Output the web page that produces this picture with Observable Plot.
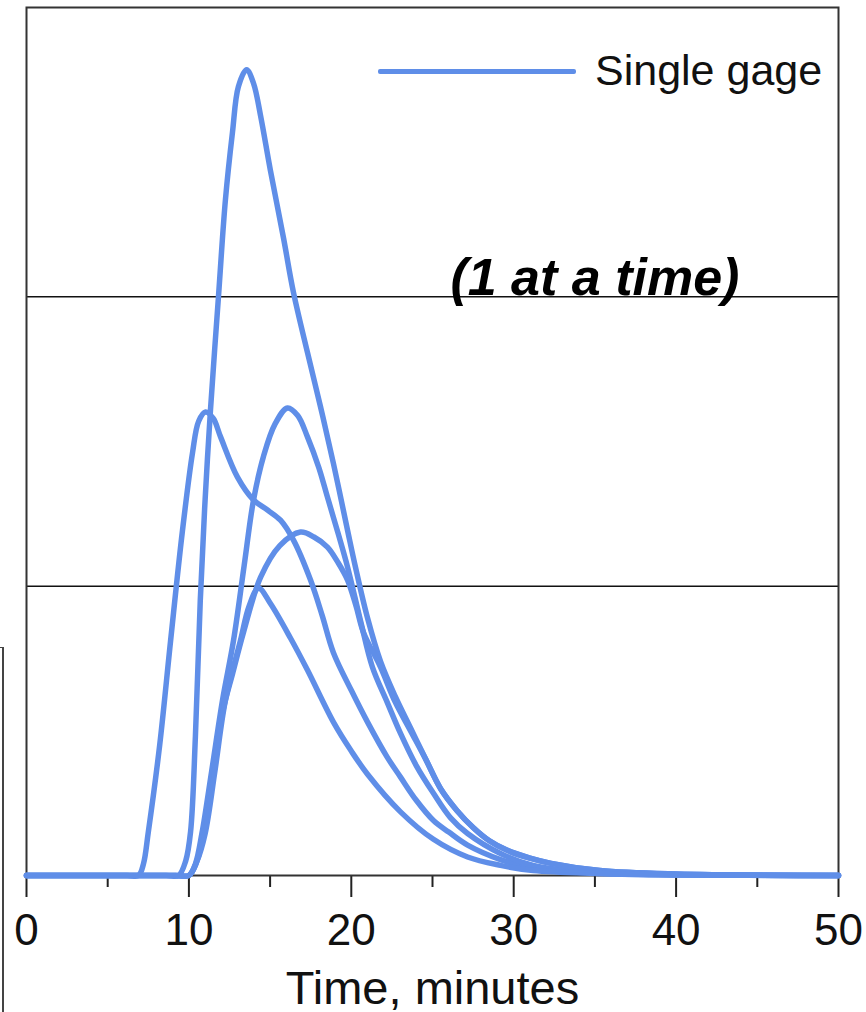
<!DOCTYPE html>
<html><head><meta charset="utf-8">
<script src="https://cdn.jsdelivr.net/npm/d3@7"></script>
<script src="https://cdn.jsdelivr.net/npm/@observablehq/plot@0.6"></script>
<style>
body{margin:0;background:#fff;font-family:"Liberation Sans",Arial,sans-serif;}
#wrap{position:relative;width:866px;height:1012px;overflow:hidden;}
#legend-line{position:absolute;left:378px;top:69px;width:198px;height:5px;background:#5f8ee8;border-radius:2px;}
#legend-text{position:absolute;left:595px;top:49px;font-size:43px;line-height:43px;color:#111;white-space:nowrap;}
#side{position:absolute;left:-10px;top:647px;width:12px;height:400px;border-top:1.5px solid #444;border-right:2px solid #444;}
</style></head><body>
<div id="wrap"><div id="side"></div><div id="legend-line"></div><div id="legend-text">Single gage</div></div>
<script>
// Time (minutes) and value pairs for each hydrograph
const curveA_t = [0, 8.6, 9.36, 9.8, 10.1, 10.4, 10.7, 11.0, 11.33, 11.82, 12.25, 12.68, 13.05, 13.55, 13.98, 14.41, 15.02, 15.83, 16.44, 17.3, 18.1, 18.9, 19.77, 20.26, 21.0, 21.8, 22.7, 23.65, 24.6, 25.5, 26.5, 27.5, 28.5, 29.6, 31, 32.3, 35.3, 40, 50];
const curveA_v = [0, 0, 0, 0.05, 0.15, 0.48, 0.95, 1.3, 1.61, 2.0, 2.336, 2.567, 2.727, 2.785, 2.738, 2.627, 2.437, 2.202, 2.015, 1.808, 1.621, 1.424, 1.193, 1.065, 0.89, 0.74, 0.62, 0.51, 0.4, 0.30, 0.225, 0.166, 0.12, 0.087, 0.06, 0.042, 0.017, 0.005, 0];

const curveB_t = [0, 6.2, 6.9, 7.2, 7.5, 8.2, 8.87, 9.6, 10.22, 10.6, 11.02, 11.5, 11.95, 12.99, 13.98, 14.84, 15.64, 16.44, 17.49, 18.2, 18.9, 20.0, 21.0, 22.2, 23.03, 24.0, 25.06, 26.0, 27.16, 29.19, 31.2, 35, 40, 50];
const curveB_v = [0, 0, 0, 0.04, 0.15, 0.45, 0.81, 1.19, 1.46, 1.57, 1.602, 1.58, 1.516, 1.377, 1.298, 1.263, 1.228, 1.159, 1.021, 0.9, 0.77, 0.64, 0.53, 0.41, 0.34, 0.26, 0.19, 0.15, 0.105, 0.055, 0.026, 0.008, 0.002, 0];

const curveC_t = [0, 9.2, 10.0, 10.4, 10.8, 11.4, 12.07, 12.75, 13.4, 13.98, 14.6, 15.3, 16.07, 16.7, 17.3, 18.0, 18.53, 19.2, 19.77, 20.57, 21.3, 22.2, 23.03, 24.0, 25.06, 26.1, 27.16, 29.19, 31.2, 35, 40, 50];
const curveC_v = [0, 0, 0, 0.04, 0.145, 0.36, 0.606, 0.813, 1.07, 1.298, 1.45, 1.56, 1.616, 1.59, 1.516, 1.41, 1.308, 1.18, 1.066, 0.88, 0.72, 0.6, 0.491, 0.38, 0.284, 0.2, 0.145, 0.076, 0.035, 0.01, 0.003, 0];

const curveD_t = [0, 9.2, 10.0, 10.5, 10.9, 11.5, 12.1, 12.7, 13.36, 14.41, 15.6, 16.87, 17.7, 18.53, 19.2, 19.77, 20.3, 20.75, 21.8, 22.7, 23.65, 24.6, 25.5, 26.5, 27.5, 28.5, 29.6, 31, 32.3, 35.3, 40, 50];
const curveD_v = [0, 0, 0, 0.05, 0.15, 0.35, 0.57, 0.70, 0.84, 1.03, 1.14, 1.187, 1.17, 1.135, 1.08, 1.021, 0.93, 0.84, 0.72, 0.6, 0.5, 0.4, 0.30, 0.225, 0.166, 0.12, 0.087, 0.06, 0.042, 0.017, 0.005, 0];

const curveE_t = [0, 9.2, 10.0, 10.5, 11.0, 11.6, 12.25, 13.18, 13.7, 14.29, 15.02, 16.26, 17.3, 18.9, 20.0, 21.0, 23.03, 25.06, 27.16, 29.19, 31.2, 35.3, 40, 50];
const curveE_v = [0, 0, 0, 0.05, 0.145, 0.36, 0.606, 0.813, 0.93, 0.993, 0.94, 0.82, 0.71, 0.53, 0.43, 0.35, 0.22, 0.125, 0.064, 0.035, 0.017, 0.007, 0.002, 0];

const xMajorTicks = [0, 10, 20, 30, 40, 50];
const xMinorTicks = [5, 15, 25, 35, 45];
const gridValues = [1, 2];
const xLabel = "Time, minutes";
const legendLabel = "Single gage";
const annotation = {label: "(1 at a time)", t: 35, v: 2};

const series = [
  {name: "A", t: curveA_t, v: curveA_v},
  {name: "B", t: curveB_t, v: curveB_v},
  {name: "C", t: curveC_t, v: curveC_v},
  {name: "D", t: curveD_t, v: curveD_v},
  {name: "E", t: curveE_t, v: curveE_v}
];
const data = series.flatMap(s => s.t.map((t, i) => ({series: s.name, t, v: s.v[i]})));

const blue = "#5f8ee8";
const font = "'Liberation Sans', Arial, sans-serif";

const chart = Plot.plot({
  width: 866,
  height: 1012,
  marginLeft: 26,
  marginRight: 28,
  marginTop: 7,
  marginBottom: 137,
  style: {fontFamily: font, background: "transparent", color: "#111", overflow: "visible"},
  x: {domain: [0, 50], label: null},
  y: {domain: [0, 3], axis: null, label: null},
  marks: [
    Plot.axisX(xMinorTicks, {tickSize: 12, tickFormat: () => "", stroke: "#222", strokeWidth: 2, label: null}),
    Plot.axisX(xMajorTicks, {tickSize: 22, tickPadding: 16, fontSize: 44, stroke: "#222", strokeWidth: 2, label: null}),
    Plot.ruleY(gridValues, {stroke: "#111", strokeWidth: 1.5}),
    Plot.frame({stroke: "#333", strokeWidth: 2}),
    Plot.line(data, {x: "t", y: "v", z: "series", stroke: blue, strokeWidth: 5.5, curve: "catmull-rom"}),
    Plot.text([annotation], {x: "t", y: "v", text: "label", dy: -2, lineAnchor: "bottom", textAnchor: "middle", fontSize: 52, fontWeight: "bold", fontStyle: "italic", fill: "#000"}),
    Plot.text([xLabel], {text: d => d, frameAnchor: "bottom", dy: 128, lineAnchor: "bottom", fontSize: 47, fill: "#111"})
  ]
});
const wrap = document.getElementById("wrap");
chart.style.position = "absolute";
chart.style.left = "0";
chart.style.top = "0";
wrap.insertBefore(chart, wrap.firstChild);
document.getElementById("legend-text").textContent = legendLabel;
</script>
</body></html>
